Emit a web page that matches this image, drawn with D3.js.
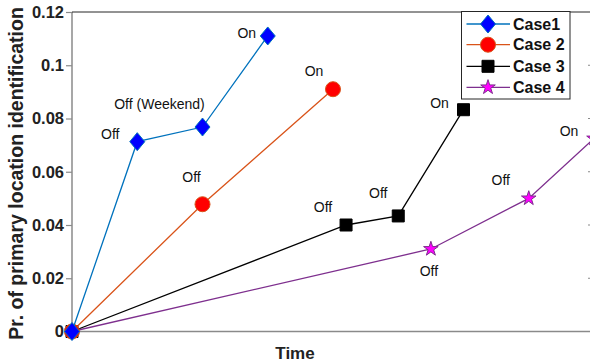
<!DOCTYPE html>
<html>
<head>
<meta charset="utf-8">
<script src="https://cdn.jsdelivr.net/npm/d3@7"></script>
<style>
  body { margin: 0; background: #fff; }
  svg { display: block; font-family: "Liberation Sans", Arial, sans-serif; }
</style>
</head>
<body>
<script>
// data
var caseNames = ["Case1", "Case 2", "Case 3", "Case 4"];
var case1X = [0, 1, 2, 3];
var case1Y = [0, 0.0713, 0.0768, 0.111];
var case1Labels = ["", "Off", "Off (Weekend)", "On"];
var case2X = [0, 2, 4];
var case2Y = [0, 0.0478, 0.091];
var case2Labels = ["", "Off", "On"];
var case3X = [0, 4.2, 5, 6];
var case3Y = [0, 0.040, 0.0434, 0.0833];
var case3Labels = ["", "Off", "Off", "On"];
var case4X = [0, 5.5, 7, 8];
var case4Y = [0, 0.031, 0.050, 0.0725];
var case4Labels = ["", "Off", "Off", "On"];
var yTicks = [0, 0.02, 0.04, 0.06, 0.08, 0.1, 0.12];
var yTickLabels = ["0", "0.02", "0.04", "0.06", "0.08", "0.1", "0.12"];

var width = 590, height = 362;
// note: "top" is taken by window.top, so use plot* names
var plotLeft = 72, plotTop = 12, plotRight = 594, plotBottom = 331.5;

var svg = d3.select("body").append("svg")
    .attr("width", width)
    .attr("height", height);

var x = d3.scaleLinear().domain([0, 8]).range([plotLeft, plotRight]);
var y = d3.scaleLinear().domain([0, 0.12]).range([plotBottom, plotTop]);

// diamond a bit taller than wide, like matlab's
var diamond = {
  draw: function(ctx, size) {
    var w = 7.5, h = 9;
    ctx.moveTo(0, -h); ctx.lineTo(w, 0); ctx.lineTo(0, h); ctx.lineTo(-w, 0); ctx.closePath();
  }
};

// styling per case
var styles = [
  {line: "#0072BD", fill: "#0000FF", edge: "#0072BD", type: diamond, size: 1},
  {line: "#D95319", fill: "#FF0000", edge: "#D95319", type: d3.symbolCircle, size: 177},
  {line: "#000000", fill: "#000000", edge: "#000000", type: d3.symbolSquare, size: 144},
  {line: "#7E2F8E", fill: "#FF00FF", edge: "#7E2F8E", type: d3.symbolStar, size: 66}
];

// label offsets relative to each point (layout only)
var labelOffsets = [
  [null, [-27, -8], [-43, -23], [-21, -3]],
  [null, [-11, -27], [-19, -18]],
  [null, [-23, -18], [-20, -23], [-24, -7]],
  [null, [-2, 22], [-28, -18], [-25, -7]]
];

var series = [
  {xs: case1X, ys: case1Y, labels: case1Labels},
  {xs: case2X, ys: case2Y, labels: case2Labels},
  {xs: case3X, ys: case3Y, labels: case3Labels},
  {xs: case4X, ys: case4Y, labels: case4Labels}
];

// axes frame
var yAxis = d3.axisLeft(y).tickValues(yTicks)
    .tickFormat(function(d, i) { return yTickLabels[i]; })
    .tickSize(6).tickPadding(2);
var gy = svg.append("g").attr("transform", "translate(" + plotLeft + ",0)").call(yAxis);
gy.select(".domain").attr("stroke", "#8a8a8a").attr("stroke-width", 1.5)
    .attr("d", "M0," + plotTop + "V" + plotBottom);
gy.selectAll(".tick line").attr("stroke", "#8a8a8a").attr("stroke-width", 1.2);
gy.selectAll(".tick text")
    .attr("font-size", "16.5px").attr("font-weight", "bold")
    .attr("fill", "#222").attr("font-family", "Liberation Sans, Arial, sans-serif");

// right-side tick marks (axis line itself falls outside the picture)
svg.append("g").selectAll("line.rt").data(yTicks.slice(1, 6)).enter().append("line")
    .attr("x1", plotRight - 6).attr("x2", plotRight)
    .attr("y1", function(d) { return y(d); })
    .attr("y2", function(d) { return y(d); })
    .attr("stroke", "#8a8a8a").attr("stroke-width", 1.2);

svg.append("line")
    .attr("x1", plotLeft).attr("x2", plotRight).attr("y1", plotBottom).attr("y2", plotBottom)
    .attr("stroke", "#8a8a8a").attr("stroke-width", 1.5);
svg.append("line")
    .attr("x1", plotLeft).attr("x2", plotRight).attr("y1", plotTop).attr("y2", plotTop)
    .attr("stroke", "#262626").attr("stroke-width", 1);

// axis titles
svg.append("text")
    .attr("x", 295).attr("y", 359)
    .attr("text-anchor", "middle")
    .attr("font-size", "17px").attr("font-weight", "bold").attr("fill", "#222")
    .text("Time");
svg.append("text")
    .attr("transform", "translate(23,173.5) rotate(-90)")
    .attr("text-anchor", "middle")
    .attr("font-size", "19.5px").attr("font-weight", "bold").attr("fill", "#222")
    .text("Pr. of primary location identification");

var line = d3.line()
    .x(function(d) { return x(d[0]); })
    .y(function(d) { return y(d[1]); });

// draw last case first so Case1 ends up on top at the origin
for (var p = series.length - 1; p >= 0; p--) {
  var s = series[p], st = styles[p];
  var pts = s.xs.map(function(v, i) { return [v, s.ys[i]]; });
  var g = svg.append("g");

  g.append("path")
      .attr("fill", "none")
      .attr("stroke", st.line)
      .attr("stroke-width", 1.3)
      .attr("d", line(pts));

  g.selectAll("path.mk" + p)
      .data(pts)
      .enter().append("path")
      .attr("class", "mk" + p)
      .attr("transform", function(d) { return "translate(" + x(d[0]) + "," + y(d[1]) + ")"; })
      .attr("d", d3.symbol().type(st.type).size(st.size))
      .attr("fill", st.fill)
      .attr("stroke", st.edge)
      .attr("stroke-width", 1);

  var offs = labelOffsets[p];
  g.selectAll("text.lb" + p)
      .data(pts.map(function(d, i) { return {d: d, t: s.labels[i], o: offs[i]}; })
              .filter(function(e) { return e.t !== ""; }))
      .enter().append("text")
      .attr("class", "lb" + p)
      .attr("x", function(e) { return x(e.d[0]) + e.o[0]; })
      .attr("y", function(e) { return y(e.d[1]) + e.o[1]; })
      .attr("text-anchor", "middle")
      .attr("dominant-baseline", "central")
      .attr("font-size", "14px")
      .attr("fill", "#111")
      .text(function(e) { return e.t; });
}

// legend
var lg = svg.append("g");
lg.append("rect")
    .attr("x", 461.5).attr("y", 11.5).attr("width", 108.5).attr("height", 87.5)
    .attr("fill", "#fff").attr("stroke", "#262626").attr("stroke-width", 1);
var legY = [24, 44.7, 66.3, 87.3];
caseNames.forEach(function(name, i) {
  var st = styles[i];
  lg.append("line")
      .attr("x1", 466.5).attr("x2", 510).attr("y1", legY[i]).attr("y2", legY[i])
      .attr("stroke", st.line).attr("stroke-width", 1.3);
  lg.append("path")
      .attr("transform", "translate(488," + legY[i] + ")")
      .attr("d", d3.symbol().type(st.type).size(st.size))
      .attr("fill", st.fill).attr("stroke", st.edge).attr("stroke-width", 1);
  lg.append("text")
      .attr("x", 513).attr("y", legY[i])
      .attr("dominant-baseline", "central")
      .attr("font-size", "16px").attr("font-weight", "bold").attr("fill", "#111")
      .text(name);
});
</script>
</body>
</html>
